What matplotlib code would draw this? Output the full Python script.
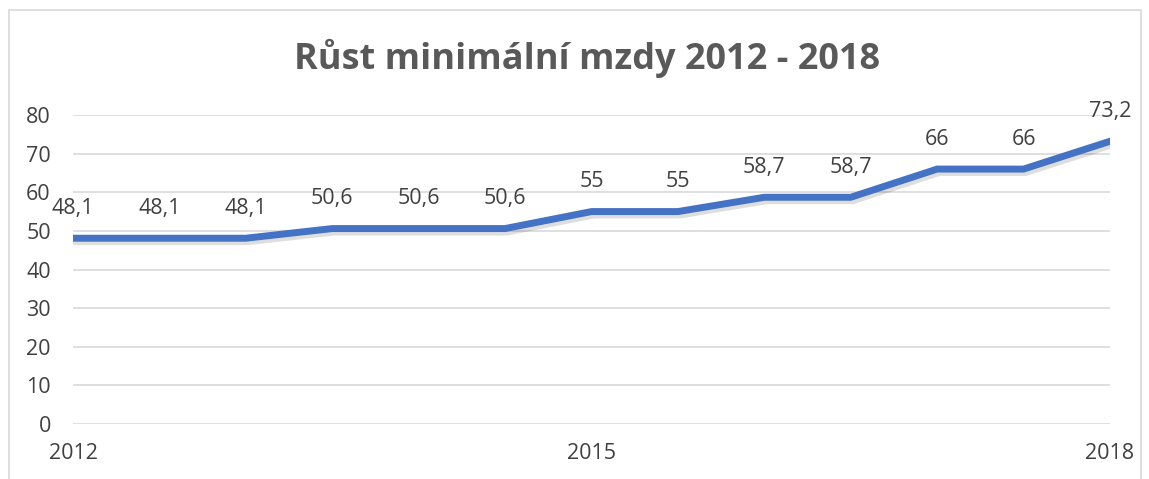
import matplotlib.pyplot as plt
import matplotlib.patheffects as pe
from matplotlib.patches import Rectangle

periods = list(range(13))
wages = [48.1, 48.1, 48.1, 50.6, 50.6, 50.6, 55, 55, 58.7, 58.7, 66, 66, 73.2]
tick_pos = [0, 6, 12]
tick_labels = ['2012', '2015', '2018']
y_ticks = [0, 10, 20, 30, 40, 50, 60, 70, 80]

plt.rcParams['font.family'] = ['Open Sans', 'DejaVu Sans']
text_col = '#404040'

fig = plt.figure(figsize=(11.49, 4.79), dpi=100)
# outer chart frame
fig.patches.append(Rectangle((9 / 1149, -0.05), 1132 / 1149, 1.05 - 10 / 479,
                             transform=fig.transFigure, fill=False,
                             edgecolor='#d9d9d9', linewidth=1.2))

ax = fig.add_axes([73 / 1149, 1 - 424 / 479, 1037 / 1149, 309 / 479])
ax.plot(periods, wages, color='#4472C4', linewidth=5, solid_joinstyle='miter',
        path_effects=[pe.SimpleLineShadow(offset=(1.5, -2.5), shadow_color='black', alpha=0.13),
                      pe.Normal()])

for x, y in zip(periods, wages):
    lbl = ('%g' % y).replace('.', ',')
    ax.annotate(lbl, (x, y), xytext=(0, 14), textcoords='offset points',
                ha='center', va='bottom', fontsize=15.5, color=text_col)

ax.set_xlim(0, 12)
ax.set_ylim(0, 80)
ax.set_yticks(y_ticks)
ax.set_xticks(tick_pos)
ax.set_xticklabels(tick_labels)
ax.grid(axis='y', color='#d9d9d9', linewidth=1.2)
ax.set_axisbelow(True)
for s in ax.spines.values():
    s.set_visible(False)
ax.tick_params(axis='both', length=0, labelsize=15.5, labelcolor=text_col)
ax.tick_params(axis='y', pad=16)
ax.tick_params(axis='x', pad=14)

fig.text(587 / 1149, 1 - 58 / 479, 'Růst minimální mzdy 2012 - 2018', ha='center', va='center',
         fontsize=26, fontweight='bold', color='#595959')

plt.savefig('out.png', dpi=100)
